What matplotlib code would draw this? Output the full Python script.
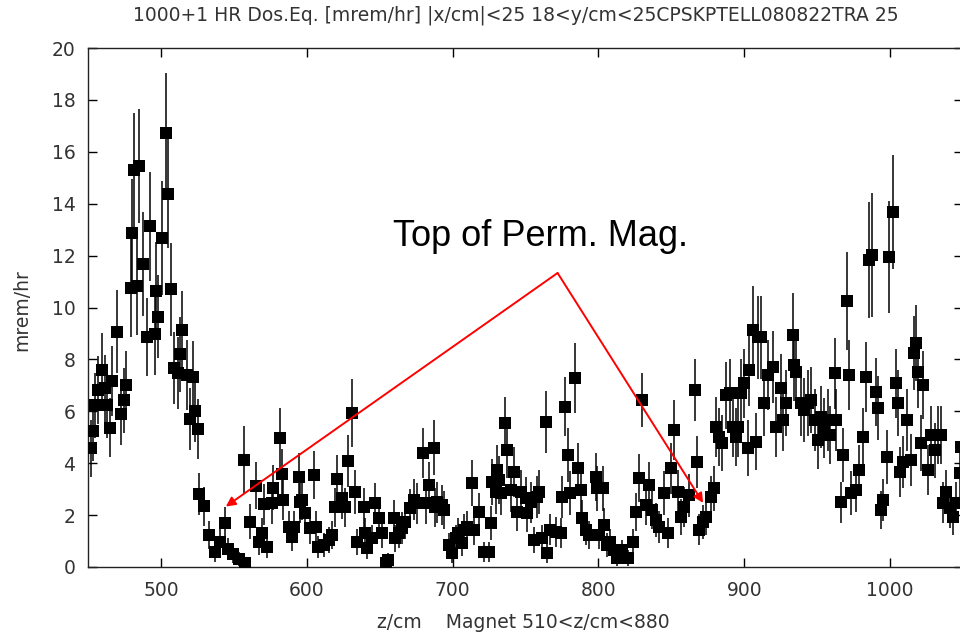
import matplotlib
matplotlib.use("Agg")
import matplotlib.pyplot as plt

# ---- data ----
z = [
    452.3, 453.5, 454.7, 457.0, 459.4, 461.7, 462.9, 465.2, 466.4, 469.9,
    472.3, 474.7, 475.8, 479.3, 480.5, 481.7, 483.5, 484.7, 488.0, 490.3,
    492.2, 495.7, 496.9, 498.1, 500.4, 503.5, 504.7, 506.8, 508.7, 511.5,
    512.9, 514.5, 518.0, 519.9, 522.3, 523.2, 525.5, 526.2, 529.7, 533.2,
    536.8, 540.3, 543.8, 546.2, 549.7, 553.2, 556.7, 557.9, 561.4, 565.0,
    567.3, 569.3, 570.8, 572.7, 576.0, 577.0, 581.9, 583.0, 584.0, 587.6,
    590.0, 591.0, 595.0, 595.6, 596.8, 599.0, 602.5, 604.7, 606.0, 608.0,
    611.6, 615.0, 617.0, 619.6, 620.8, 624.0, 626.5, 628.0, 631.0, 633.4,
    634.5, 639.0, 640.0, 641.4, 644.8, 647.0, 649.4, 651.7, 654.0, 656.0,
    659.7, 660.8, 663.0, 665.4, 667.7, 671.0, 673.4, 675.7, 679.8, 681.5,
    683.7, 687.0, 688.0, 689.5, 693.0, 694.0, 697.5, 699.8, 702.0, 704.0,
    706.6, 707.7, 710.0, 713.5, 714.6, 718.0, 721.5, 725.0, 726.0, 727.0,
    729.5, 730.6, 731.8, 733.0, 735.7, 737.5, 739.8, 742.0, 744.5, 746.7,
    750.0, 751.0, 753.6, 755.9, 758.0, 759.3, 761.6, 763.9, 765.0, 767.0,
    770.7, 774.0, 775.0, 776.9, 778.8, 780.6, 783.8, 785.7, 788.0, 789.0,
    791.3, 793.5, 798.0, 799.3, 800.5, 802.8, 804.0, 806.0, 808.0, 810.8,
    813.0, 816.5, 820.0, 823.4, 825.7, 828.0, 830.2, 832.6, 834.8, 837.0,
    839.4, 841.7, 845.0, 847.4, 849.7, 852.0, 854.3, 856.6, 858.8, 862.3,
    866.2, 867.6, 869.0, 871.4, 873.7, 877.0, 879.5, 880.6, 882.9, 885.0,
    887.7, 890.0, 892.0, 894.4, 895.5, 897.8, 900.0, 902.4, 903.5, 905.8,
    908.0, 909.2, 911.5, 913.8, 916.0, 919.5, 921.8, 925.5, 926.4, 928.7,
    933.3, 934.4, 935.6, 939.0, 941.3, 943.6, 945.9, 948.3, 950.5, 952.7,
    955.0, 957.4, 958.5, 961.9, 963.0, 966.0, 967.6, 970.6, 971.5, 973.4,
    976.8, 979.0, 981.4, 983.7, 985.2, 987.6, 990.5, 992.0, 993.5, 995.0,
    998.0, 999.0, 1002.0, 1004.2, 1005.4, 1006.5, 1008.8, 1011.8, 1014.0, 1016.4,
    1017.8, 1019.0, 1021.4, 1022.4, 1026.0, 1028.3, 1030.6, 1032.8, 1035.0, 1036.2,
    1038.5, 1040.8, 1043.0, 1045.4, 1047.7, 1048.9,
]

dose = [
    4.58, 5.24, 6.23, 6.82, 7.61, 6.88, 6.23, 5.37, 7.15, 9.06,
    5.90, 6.42, 7.01, 10.77, 12.87, 15.31, 10.83, 15.46, 11.69, 8.86,
    13.14, 8.99, 10.64, 9.65, 12.67, 16.73, 14.39, 10.70, 7.67, 7.48,
    8.20, 9.12, 7.41, 5.70, 7.34, 6.03, 5.31, 2.81, 2.34, 1.23,
    0.57, 0.96, 1.68, 0.70, 0.50, 0.30, 4.12, 0.17, 1.75, 3.13,
    0.96, 1.30, 2.41, 0.77, 2.45, 3.05, 4.97, 3.60, 2.60, 1.55,
    1.15, 1.55, 3.47, 2.50, 2.60, 2.10, 1.50, 3.55, 1.55, 0.77,
    0.85, 1.04, 1.23, 2.30, 3.40, 2.65, 2.30, 4.10, 5.93, 2.90,
    0.96, 2.30, 1.30, 0.73, 1.10, 2.45, 1.90, 1.30, 0.15, 0.27,
    1.90, 1.10, 1.30, 1.50, 1.73, 2.27, 2.60, 2.45, 4.40, 2.45,
    3.15, 4.60, 2.30, 2.50, 2.40, 2.20, 0.85, 0.54, 1.10, 1.30,
    0.92, 1.43, 1.55, 3.24, 1.43, 2.12, 0.58, 0.58, 1.70, 3.28,
    2.90, 3.74, 3.35, 2.85, 5.55, 4.50, 2.97, 3.66, 2.12, 2.90,
    2.65, 2.08, 2.50, 1.04, 2.70, 2.90, 1.10, 5.60, 0.54, 1.43,
    1.35, 1.30, 2.70, 6.17, 4.30, 2.85, 7.28, 3.80, 2.97, 1.90,
    1.43, 1.23, 3.47, 3.04, 1.23, 3.04, 1.62, 0.85, 0.96, 0.65,
    0.35, 0.65, 0.35, 0.96, 2.12, 3.43, 6.43, 2.39, 3.16, 2.20,
    1.81, 1.54, 2.85, 1.31, 3.81, 5.28, 2.89, 1.93, 2.31, 2.77,
    6.82, 4.05, 1.43, 1.73, 1.93, 2.70, 3.04, 5.39, 5.00, 4.78,
    6.62, 6.70, 5.39, 5.00, 5.39, 6.70, 7.09, 4.59, 7.60, 9.13,
    4.82, 8.86, 8.86, 6.32, 7.40, 7.70, 5.39, 6.90, 5.66, 6.32,
    8.94, 7.78, 7.51, 6.32, 6.05, 6.32, 6.43, 5.66, 4.89, 5.78,
    5.36, 5.66, 5.09, 7.47, 5.66, 2.50, 4.31, 10.25, 7.40, 2.85,
    2.97, 3.74, 5.00, 7.32, 11.83, 12.02, 6.74, 6.13, 2.20, 2.58,
    4.24, 11.95, 13.68, 7.09, 6.32, 3.66, 4.05, 5.66, 4.12, 8.25,
    8.63, 7.51, 4.78, 7.01, 3.74, 5.09, 4.50, 5.09, 5.09, 2.47,
    2.89, 2.27, 1.93, 2.47, 3.62, 4.62,
]

err = [
    1.10, 1.15, 1.25, 1.30, 1.40, 1.30, 1.25, 1.15, 1.35, 1.60,
    1.20, 1.25, 1.30, 1.90, 2.10, 2.20, 1.90, 2.20, 2.00, 1.50,
    2.10, 1.60, 1.90, 1.60, 2.20, 2.30, 2.10, 1.80, 1.40, 1.40,
    1.45, 1.50, 1.35, 1.20, 1.35, 1.20, 1.15, 0.80, 0.75, 0.55,
    0.38, 0.50, 0.65, 0.42, 0.35, 0.27, 1.30, 0.20, 0.66, 0.90,
    0.50, 0.57, 0.78, 0.44, 0.78, 0.87, 1.15, 0.95, 0.80, 0.62,
    0.53, 0.62, 0.92, 0.80, 0.80, 0.72, 0.61, 0.93, 0.62, 0.44,
    0.46, 0.51, 0.55, 0.76, 0.92, 0.81, 0.76, 1.00, 1.30, 0.85,
    0.49, 0.76, 0.57, 0.43, 0.52, 0.78, 0.69, 0.57, 0.19, 0.26,
    0.69, 0.52, 0.57, 0.61, 0.66, 0.75, 0.80, 0.78, 0.96, 0.78,
    0.89, 1.07, 0.76, 0.79, 0.77, 0.74, 0.46, 0.37, 0.52, 0.57,
    0.48, 0.60, 0.62, 0.90, 0.60, 0.73, 0.38, 0.38, 0.65, 0.90,
    0.85, 0.97, 0.91, 0.84, 1.00, 1.06, 0.86, 0.96, 0.73, 0.85,
    0.81, 0.72, 0.79, 0.51, 0.82, 0.85, 0.52, 1.20, 0.37, 0.60,
    0.58, 0.57, 0.82, 1.14, 1.04, 0.84, 1.34, 0.97, 0.86, 0.69,
    0.60, 0.55, 0.93, 0.87, 0.55, 0.87, 0.64, 0.46, 0.49, 0.40,
    0.30, 0.40, 0.30, 0.49, 0.73, 0.93, 1.05, 0.77, 0.89, 0.74,
    0.67, 0.62, 0.84, 0.57, 0.98, 1.15, 0.85, 0.69, 0.76, 0.83,
    1.20, 1.00, 0.60, 0.66, 0.69, 0.82, 0.87, 1.16, 1.12, 1.09,
    1.29, 1.30, 1.16, 1.12, 1.16, 1.30, 1.33, 1.07, 1.38, 1.70,
    1.10, 1.60, 1.60, 1.26, 1.36, 1.39, 1.16, 1.31, 1.19, 1.26,
    1.60, 1.40, 1.37, 1.26, 1.23, 1.26, 1.27, 1.19, 1.10, 1.20,
    1.16, 1.19, 1.13, 1.37, 1.19, 0.79, 1.04, 1.90, 1.36, 0.84,
    0.86, 0.97, 1.12, 1.35, 2.25, 2.38, 1.30, 1.24, 0.74, 0.80,
    1.03, 2.15, 2.20, 1.33, 1.26, 0.96, 1.00, 1.19, 1.01, 1.44,
    1.47, 1.37, 1.09, 1.32, 0.97, 1.13, 1.06, 1.13, 1.13, 0.79,
    0.85, 0.75, 0.69, 0.79, 0.95, 1.07,
]

x_ticks = [500, 600, 700, 800, 900, 1000]
y_ticks = [0, 2, 4, 6, 8, 10, 12, 14, 16, 18, 20]

title = "1000+1 HR Dos.Eq. [mrem/hr] |x/cm|<25 18<y/cm<25CPSKPTELL080822TRA 25"
xlabel = "z/cm    Magnet 510<z/cm<880"
ylabel = "mrem/hr"
note = "Top of Perm. Mag."
arrow_start = (772, 11.33)
arrow_ends = [(544.5, 2.33), (871.8, 2.47)]

# ---- figure ----
W, H = 960, 637
fig = plt.figure(figsize=(W / 100, H / 100), dpi=100)
fig.patch.set_facecolor("white")
ax = fig.add_axes([88 / W, 1 - 567 / H, (963 - 88) / W, (567 - 48) / H])

ax.errorbar(z, dose, yerr=err, fmt="s", color="black", ecolor="black",
            markersize=8.8, elinewidth=1.1, capsize=5.5, capthick=1.1,
            markeredgewidth=0, zorder=3)

ax.set_xlim(450, 1050)
ax.set_ylim(0, 20)
ax.set_xticks(x_ticks)
ax.set_yticks(y_ticks)
txtcol = "#333333"
ax.tick_params(direction="in", length=6.5, width=1.0, top=True, right=True,
               labelsize=13.5, colors="black", labelcolor=txtcol)
ax.tick_params(axis="x", pad=10)
ax.tick_params(axis="y", pad=9)
for s in ax.spines.values():
    s.set_linewidth(1.0)
    s.set_color("#222222")

fig.text(516 / W, 1 - 15 / H, title, ha="center", va="center",
         fontsize=13.5, color=txtcol)
fig.text(523 / W, 1 - 622 / H, xlabel, ha="center", va="center",
         fontsize=13.5, color=txtcol)
fig.text(22 / W, 1 - 310 / H, ylabel, ha="center", va="center",
         rotation=90, fontsize=13.5, color=txtcol)

ax.text(760, 12.37, note, ha="center", va="baseline", fontsize=26,
        family="Liberation Sans", color="black", zorder=6)

for end in arrow_ends:
    ax.annotate("", xy=end, xytext=arrow_start,
                arrowprops=dict(arrowstyle="-|>", color="red", lw=1.4,
                                mutation_scale=14, shrinkA=0, shrinkB=0),
                zorder=6)

fig.savefig("out.png", dpi=100, facecolor="white")
